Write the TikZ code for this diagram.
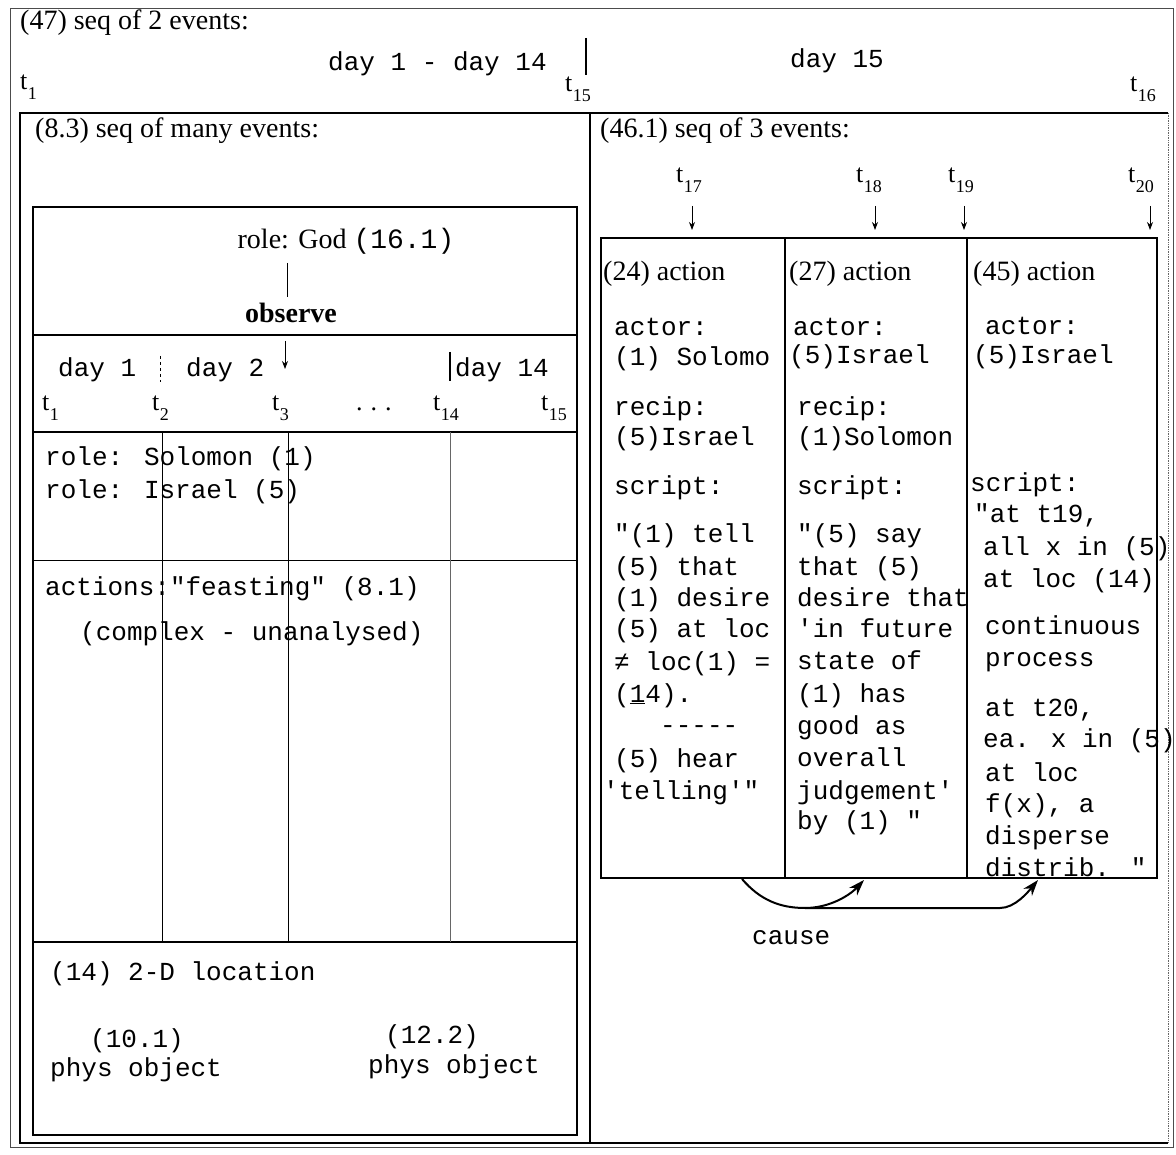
\documentclass[tikz,border=0pt]{standalone}
\usepackage{fontspec}
\setmainfont{Liberation Serif}
\newfontfamily\tw{Liberation Mono}
\usetikzlibrary{arrows.meta}
\newcommand\tsb[1]{t\kern0.5pt\raisebox{-0.35em}{\fontsize{18}{18}\selectfont #1}}
\newcommand\mytl[4]{\node[mono] (#1) at (#2,#3) {#4};}
\begin{document}
\begin{tikzpicture}[x=1pt,y=-1pt,
  mono/.style={font=\tw\fontsize{26}{32}\selectfont, inner sep=0pt, anchor=base west},
  ser/.style={font=\fontsize{28}{32}\selectfont, inner sep=0pt, anchor=base west},
  tl/.style={font=\fontsize{26}{28}\selectfont, inner sep=0pt, anchor=base west},
  frame/.style={draw, line width=0.8pt, black!70},
  box/.style={draw, line width=1.3pt},
  thinl/.style={draw, line width=0.8pt},
  faint/.style={draw, line width=0.7pt, black!60},
  tarrow/.style={draw, line width=0.8pt, -{Stealth[length=8pt,width=6pt]}},
  causearrow/.style={draw, line width=2pt, -{Stealth[length=16pt,width=11pt]}}
]
\useasboundingbox (0,0) rectangle (1176,1155);
\fill[white] (0,0) rectangle (1176,1155);

% outer frame and panels
\draw[frame] (10,8) rectangle (1173,1147);
\draw[box] (20,113) -- (590,113) -- (590,1143) -- (20,1143) -- cycle;
\draw[box] (590,113) -- (1168,113);
\draw[box] (590,1143) -- (1168,1143);
\draw[faint, densely dotted] (1168,113) -- (1168,1143);

% header
\node[ser] (h47) at (20,30) {(47) seq of 2 events:};
\node[mono] (hday) at (328,71) {day 1 - day 14};
\coordinate (hb1) at (586,38); \coordinate (hb2) at (586,75);
\draw[line width=2pt] (hb1) -- (hb2);
\node[tl] (ht1) at (20,90) {\tsb{1}};
\node[tl] (ht15) at (565,92) {\tsb{15}};
\node[mono] (hday15) at (790,68) {day 15};
\node[tl] (ht16) at (1130,92) {\tsb{16}};

% ---------------- left panel
\node[ser] (l83) at (35,138) {(8.3) seq of many events:};
\draw[box] (33,207) rectangle (577,1135);
\draw[box] (33,335) -- (577,335);
\draw[box] (33,432) -- (577,432);
\draw[thinl] (33,560) -- (577,560);
\draw[box] (33,942) -- (577,942);
\draw[thinl] (162,432) -- (162,942);
\draw[thinl] (288,432) -- (288,942);
\draw[faint] (450,432) -- (450,942);

\node[ser, anchor=base] (god) at (346,249) {role: God {\tw (16.1)}};
\node[ser, anchor=base, font=\bfseries\fontsize{28}{32}\selectfont] (obs) at (291,323) {observe};
\coordinate (gl1) at (287,263); \coordinate (gl2) at (287,297);
\draw[thinl] (gl1) -- (gl2);
\coordinate (oa1) at (285,341); \coordinate (oa2) at (285,369);
\draw[tarrow] (oa1) -- (oa2);

\node[mono] (d1) at (58,377) {day 1};
\draw[line width=1pt, dashed] (160,356) -- (160,382);
\node[mono] (d2) at (186,377) {day 2};
\draw[line width=1.2pt] (450,352) -- (450,381);
\node[mono] (d14) at (455,377) {day 14};

\node[tl] (lt1) at (42,411) {\tsb{1}};
\node[tl] (lt2) at (152,411) {\tsb{2}};
\node[tl] (lt3) at (272,411) {\tsb{3}};
\node[tl] (ldots) at (356,411) {.\hspace{8pt}.\hspace{8pt}.};
\node[tl] (lt14) at (433,411) {\tsb{14}};
\node[tl] (lt15) at (541,411) {\tsb{15}};

\node[mono] (rsol) at (45,466) {role: Solomon (1)};
\node[mono] (risr) at (45,498) {role: Israel (5)};
\node[mono] (feast) at (45,595) {actions:"feasting" (8.1)};
\node[mono] (cplx) at (80,640) {(complex - unanalysed)};

\node[mono] (loc14) at (50,980) {(14) 2-D location};
\node[mono] (o101) at (90,1047) {(10.1)};
\node[mono] (po1) at (50,1076) {phys object};
\node[mono] (o122) at (385,1043) {(12.2)};
\node[mono] (po2) at (368,1073) {phys object};

% ---------------- right panel
\node[ser] (r461) at (600,138) {(46.1) seq of 3 events:};
\node[tl] (t17) at (676,183) {\tsb{17}};
\node[tl] (t18) at (856,183) {\tsb{18}};
\node[tl] (t19) at (948,183) {\tsb{19}};
\node[tl] (t20) at (1128,183) {\tsb{20}};
\coordinate (a17a) at (692,206); \coordinate (a17b) at (692,230);
\coordinate (a18a) at (875,206); \coordinate (a18b) at (875,230);
\coordinate (a19a) at (964,206); \coordinate (a19b) at (964,230);
\coordinate (a20a) at (1150,206); \coordinate (a20b) at (1150,230);
\draw[tarrow] (a17a) -- (a17b);
\draw[tarrow] (a18a) -- (a18b);
\draw[tarrow] (a19a) -- (a19b);
\draw[tarrow] (a20a) -- (a20b);

\draw[box] (601,238) rectangle (1157,878);
\draw[box] (785,238) -- (785,878);
\draw[box] (967,238) -- (967,878);

\node[ser] (ac24) at (603,281) {(24) action};
\node[ser] (ac27) at (789,281) {(27) action};
\node[ser] (ac45) at (973,281) {(45) action};

% column 1
\mytl{c1a}{614}{336}{actor:}
\mytl{c1b}{614}{366}{(1) Solomo}
\mytl{c1c}{614}{416}{recip:}
\mytl{c1d}{614}{446}{(5)Israel}
\mytl{c1e}{614}{494}{script:}
\mytl{c1f}{614}{542}{"(1) tell}
\mytl{c1g}{614}{575}{(5) that}
\mytl{c1h}{614}{606}{(1) desire}
\mytl{c1i}{614}{637}{(5) at loc}
\mytl{c1j}{614}{670}{≠ loc(1) =}
\mytl{c1k}{614}{702}{(\underline{1}4).}
\mytl{c1l}{660}{733}{-----}
\mytl{c1m}{614}{767}{(5) hear}
\mytl{c1n}{603}{799}{'telling'"}

% column 2
\mytl{c2a}{793}{336}{actor:}
\mytl{c2b}{789}{364}{(5)Israel}
\mytl{c2c}{797}{416}{recip:}
\mytl{c2d}{797}{446}{(1)Solomon}
\mytl{c2e}{797}{494}{script:}
\mytl{c2f}{797}{542}{"(5) say}
\mytl{c2g}{797}{575}{that (5)}
\mytl{c2h}{797}{606}{desire that}
\mytl{c2i}{797}{637}{'in future}
\mytl{c2j}{797}{669}{state of}
\mytl{c2k}{797}{702}{(1) has}
\mytl{c2l}{797}{734}{good as}
\mytl{c2m}{797}{766}{overall}
\mytl{c2n}{797}{799}{judgement'}
\mytl{c2o}{797}{829}{by (1) "}

% column 3
\mytl{c3a}{985}{335}{actor:}
\mytl{c3b}{973}{364}{(5)Israel}
\mytl{c3c}{970}{492}{script:}
\mytl{c3d}{974}{522}{"at t19,}
\mytl{c3e}{983}{555}{all x in (5)}
\mytl{c3f}{983}{587}{at loc (14)}
\mytl{c3g}{985}{634}{continuous}
\mytl{c3h}{985}{666}{process}
\mytl{c3i}{985}{716}{at t20,}
\mytl{c3j}{983}{747}{ea. x in (5)}
\mytl{c3k}{985}{781}{at loc}
\mytl{c3l}{985}{812}{f(x), a}
\mytl{c3m}{985}{844}{disperse}
\mytl{c3n}{985}{876}{distrib. "}

% cause arrows
\coordinate (cs) at (742,879);
\coordinate (cb) at (805,908);
\coordinate (ce1) at (864,880);
\coordinate (cm) at (1000,908);
\coordinate (ce2) at (1038,880);
\draw[causearrow] (cs) .. controls (760,900) and (780,908) .. (cb) .. controls (830,908) and (850,895) .. (ce1);
\draw[causearrow] (cb) -- (cm) .. controls (1015,908) and (1028,892) .. (ce2);
\node[mono] (cause) at (752,944) {cause};
\end{tikzpicture}
\end{document}
